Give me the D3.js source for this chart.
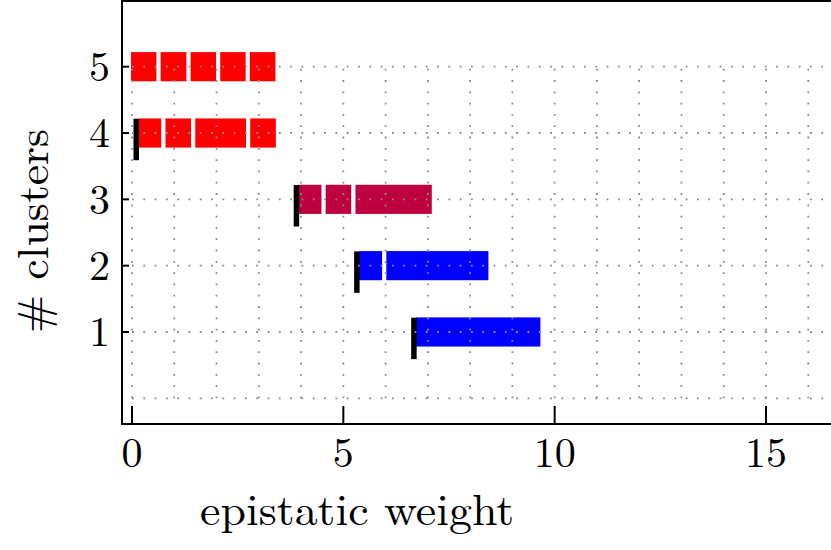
<!DOCTYPE html>
<html>
<head>
<meta charset="utf-8">
<script src="https://cdn.jsdelivr.net/npm/d3@7"></script>
<style>
  html, body { margin: 0; padding: 0; background: #fff; }
  svg { display: block; }
</style>
</head>
<body>
<div id="chart"></div>
<script>
// Cluster bars against epistatic weight

const clusterCounts = [5, 4, 3, 2, 1];
// weight where the row's clusters were merged (black marker); none for the top row
const mergeWeights = [null, 0.10, 3.89, 5.32, 6.67];
// edges of the coloured segments in each row
const segmentEdges = [
  [-0.07, 0.63, 1.34, 2.04, 2.74, 3.44],
  [0.10, 0.745, 1.45, 2.75, 3.45],
  [3.89, 4.535, 5.24, 7.14],
  [5.32, 5.97, 8.48],
  [6.67, 9.71]
];
const rowColors = ["#ff0000", "#ff0000", "#bf0040", "#0000ff", "#0000ff"];

const xTicks = [0, 5, 10, 15];
const yTicks = [1, 2, 3, 4, 5];
const xGridValues = d3.range(0, 17);
const yGridValues = d3.range(0, 6);

const width = 831;
const height = 550;
const plotLeft = 122, plotTop = 1, plotBottom = 424;
const font = "'Latin Modern Roman', 'CMU Serif', 'Liberation Serif', serif";

const x = d3.scaleLinear().domain([0, 15]).range([132, 766]);
const y = d3.scaleLinear().domain([0, 5]).range([398.3, 66.7]);

const svg = d3.select("#chart")
  .append("svg")
  .attr("width", width)
  .attr("height", height);

// bars, one rect per segment
const rows = svg.append("g")
  .selectAll("g")
  .data(clusterCounts)
  .join("g");

rows.each(function (c, i) {
  const segs = d3.pairs(segmentEdges[i]);
  d3.select(this).selectAll("rect")
    .data(segs)
    .join("rect")
    .attr("x", (d) => x(d[0]))
    .attr("width", (d) => x(d[1]) - x(d[0]))
    .attr("y", y(c + 0.25))
    .attr("height", y(c - 0.25) - y(c + 0.25))
    .attr("fill", rowColors[i])
    .attr("stroke", "#fff")
    .attr("stroke-width", 4);
});

// merge markers
svg.append("g")
  .selectAll("line")
  .data(clusterCounts.map((c, i) => ({ c, w: mergeWeights[i] })).filter((d) => d.w !== null))
  .join("line")
  .attr("x1", (d) => x(d.w))
  .attr("x2", (d) => x(d.w))
  .attr("y1", (d) => y(d.c + 0.215))
  .attr("y2", (d) => y(d.c - 0.41))
  .attr("stroke", "#000")
  .attr("stroke-width", 5.5);

// dotted grid, drawn on top of the bars
const grid = svg.append("g")
  .attr("stroke", "#8a8a8a")
  .attr("stroke-width", 1.8)
  .attr("stroke-dasharray", "1.8 9.5");

grid.selectAll("line.h")
  .data(yGridValues)
  .join("line")
  .attr("class", "h")
  .attr("x1", x(0))
  .attr("x2", x(17))
  .attr("y1", (d) => y(d))
  .attr("y2", (d) => y(d));

grid.selectAll("line.v")
  .data(xGridValues)
  .join("line")
  .attr("class", "v")
  .attr("x1", (d) => x(d))
  .attr("x2", (d) => x(d))
  .attr("y1", y(0))
  .attr("y2", y(5));

// frame (right side is cut off)
const frame = svg.append("g").attr("stroke", "#000").attr("stroke-width", 2).attr("fill", "none");
frame.append("path")
  .attr("d", `M${width + 2},${plotTop} H${plotLeft} V${plotBottom} H${width + 2}`);

// ticks pointing inwards
frame.selectAll("line.xt")
  .data(xTicks)
  .join("line")
  .attr("class", "xt")
  .attr("x1", (d) => x(d))
  .attr("x2", (d) => x(d))
  .attr("y1", plotBottom)
  .attr("y2", plotBottom - 18);

frame.selectAll("line.yt")
  .data(yTicks)
  .join("line")
  .attr("class", "yt")
  .attr("x1", plotLeft)
  .attr("x2", plotLeft + 7)
  .attr("y1", (d) => y(d))
  .attr("y2", (d) => y(d));

// tick labels
svg.append("g")
  .selectAll("text")
  .data(xTicks)
  .join("text")
  .attr("x", (d) => x(d))
  .attr("y", 467)
  .attr("text-anchor", "middle")
  .style("font-family", font)
  .style("font-size", "42px")
  .text((d) => d);

svg.append("g")
  .selectAll("text")
  .data(yTicks)
  .join("text")
  .attr("x", 110)
  .attr("y", (d) => y(d))
  .attr("dy", "0.34em")
  .attr("text-anchor", "end")
  .style("font-family", font)
  .style("font-size", "42px")
  .text((d) => d);

// axis titles
svg.append("text")
  .attr("x", 357)
  .attr("y", 525)
  .attr("text-anchor", "middle")
  .attr("textLength", 314)
  .attr("lengthAdjust", "spacingAndGlyphs")
  .style("font-family", font)
  .style("font-size", "44px")
  .text("epistatic weight");

svg.append("text")
  .attr("transform", "translate(48,231) rotate(-90)")
  .attr("text-anchor", "middle")
  .attr("textLength", 204)
  .attr("lengthAdjust", "spacingAndGlyphs")
  .style("font-family", font)
  .style("font-size", "44px")
  .text("# clusters");
</script>
</body>
</html>
